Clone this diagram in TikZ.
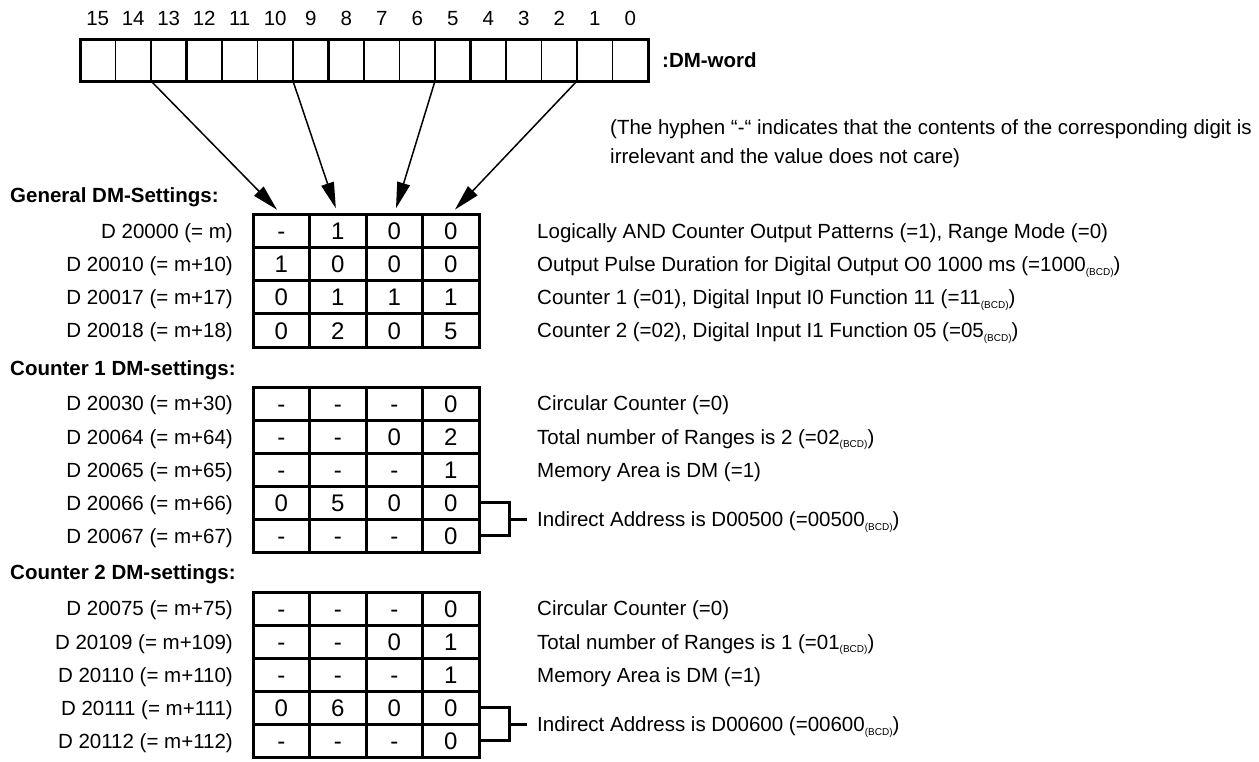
\documentclass[tikz,border=0pt]{standalone}
\usepackage{fontspec}
\setmainfont{Liberation Sans}
\usetikzlibrary{arrows.meta,calc}
\newcommand\bcd{\raisebox{-0.35ex}{\fontsize{10}{10}\selectfont(BCD)}}
\begin{document}
\begin{tikzpicture}[x=1pt,y=-1pt,
  txt/.style={font=\fontsize{20.5}{25}\selectfont, inner sep=0pt, text height=14.7pt, text depth=0pt},
  hdr/.style={font=\fontsize{20.5}{25}\selectfont\bfseries, inner sep=0pt, anchor=west, text height=14.7pt, text depth=0pt},
  lbl/.style={txt, anchor=east},
  desc/.style={txt, anchor=west},
  regcell/.style={draw, line width=1.5pt, minimum width=35.5pt, minimum height=42pt, inner sep=0pt, outer sep=0pt},
  cell/.style={draw, line width=3pt, minimum width=56.5pt, minimum height=33.3pt, inner sep=0pt, outer sep=0pt, font=\fontsize{24}{28}\selectfont, text height=17.2pt, text depth=0pt},
  ccell/.style={cell, minimum height=33.1pt},
  arr/.style={line width=1.5pt, -{Triangle[length=26pt,width=13pt]}, shorten >=6pt},
  brk/.style={line width=3pt},
]
\useasboundingbox (0,0) rectangle (1259,761);
\coordinate (dx) at (537,0);
\coordinate (bx) at (509,0);
% register
\foreach \b in {0,...,15} {
  \node[regcell] (r\b) at ({648-35.5*\b-17.75},60) {};
  \node[txt] (n\b) at ({648-35.5*\b-17.75},18) {\b};
}
\draw[line width=3pt] (r15.north west) rectangle (r0.south east);
\foreach \b in {12,8,4} \draw[line width=2.6pt] (r\b.north west) -- (r\b.south west);
\node[hdr] (dmw) at (662,60) {:DM-word};
\node[desc] (note1) at (610,127) {(The hyphen “-“ indicates that the contents of the corresponding digit is};
\node[desc] (note2) at (610,156) {irrelevant and the value does not care)};
% General
\node[hdr] (h1) at (10,195) {General DM-Settings:};
\foreach [count=\r] \lab/\a/\b/\c/\d in {{D 20000 (= m)}/-/1/0/0, {D 20010 (= m+10)}/1/0/0/0, {D 20017 (= m+17)}/0/1/1/1, {D 20018 (= m+18)}/0/2/0/5} {
  \pgfmathsetmacro\yy{214+(\r-0.5)*33.3}
  \node[lbl] (gl\r) at (233,\yy) {\lab};
  \node[cell] (g\r a) at (281.25,\yy) {\a};
  \node[cell] (g\r b) at (337.75,\yy) {\b};
  \node[cell] (g\r c) at (394.25,\yy) {\c};
  \node[cell] (g\r d) at (450.75,\yy) {\d};
}
\node[desc] (gd1) at (g1d -| dx) {Logically AND Counter Output Patterns (=1), Range Mode (=0)};
\node[desc] (gd2) at (g2d -| dx) {Output Pulse Duration for Digital Output O0 1000 ms (=1000\bcd)};
\node[desc] (gd3) at (g3d -| dx) {Counter 1 (=01), Digital Input I0 Function 11 (=11\bcd)};
\node[desc] (gd4) at (g4d -| dx) {Counter 2 (=02), Digital Input I1 Function 05 (=05\bcd)};
% arrows
\draw[arr] (r13.south west) -- (g1a.north);
\draw[arr] (r9.south west) -- (g1b.north);
\draw[arr] (r5.south west) -- (g1c.north);
\draw[arr] (r1.south west) -- (g1d.north);
% Counter 1
\node[hdr] (h2) at (10,368) {Counter 1 DM-settings:};
\foreach [count=\r] \lab/\a/\b/\c/\d in {{D 20030 (= m+30)}/-/-/-/0, {D 20064 (= m+64)}/-/-/0/2, {D 20065 (= m+65)}/-/-/-/1, {D 20066 (= m+66)}/0/5/0/0, {D 20067 (= m+67)}/-/-/-/0} {
  \pgfmathsetmacro\yy{387+(\r-0.5)*33.1}
  \node[lbl] (al\r) at (233,\yy) {\lab};
  \node[ccell] (a\r a) at (281.25,\yy) {\a};
  \node[ccell] (a\r b) at (337.75,\yy) {\b};
  \node[ccell] (a\r c) at (394.25,\yy) {\c};
  \node[ccell] (a\r d) at (450.75,\yy) {\d};
}
\node[desc] (ad1) at (a1d -| dx) {Circular Counter (=0)};
\node[desc] (ad2) at (a2d -| dx) {Total number of Ranges is 2 (=02\bcd)};
\node[desc] (ad3) at (a3d -| dx) {Memory Area is DM (=1)};
\draw[brk] (a4d.east) -- (a4d.east -| bx) -- (a5d.east -| bx) -- (a5d.east);
\draw[brk] ($(a4d.east -| bx)!0.5!(a5d.east -| bx)$) -- ++(18,0) coordinate (as);
\node[desc] (ad4) at (as -| dx) {Indirect Address is D00500 (=00500\bcd)};
% Counter 2
\node[hdr] (h3) at (10,572) {Counter 2 DM-settings:};
\foreach [count=\r] \lab/\a/\b/\c/\d in {{D 20075 (= m+75)}/-/-/-/0, {D 20109 (= m+109)}/-/-/0/1, {D 20110 (= m+110)}/-/-/-/1, {D 20111 (= m+111)}/0/6/0/0, {D 20112 (= m+112)}/-/-/-/0} {
  \pgfmathsetmacro\yy{592+(\r-0.5)*33.1}
  \node[lbl] (bl\r) at (233,\yy) {\lab};
  \node[ccell] (b\r a) at (281.25,\yy) {\a};
  \node[ccell] (b\r b) at (337.75,\yy) {\b};
  \node[ccell] (b\r c) at (394.25,\yy) {\c};
  \node[ccell] (b\r d) at (450.75,\yy) {\d};
}
\node[desc] (bd1) at (b1d -| dx) {Circular Counter (=0)};
\node[desc] (bd2) at (b2d -| dx) {Total number of Ranges is 1 (=01\bcd)};
\node[desc] (bd3) at (b3d -| dx) {Memory Area is DM (=1)};
\draw[brk] (b4d.east) -- (b4d.east -| bx) -- (b5d.east -| bx) -- (b5d.east);
\draw[brk] ($(b4d.east -| bx)!0.5!(b5d.east -| bx)$) -- ++(18,0) coordinate (bs);
\node[desc] (bd4) at (bs -| dx) {Indirect Address is D00600 (=00600\bcd)};
\end{tikzpicture}
\end{document}
